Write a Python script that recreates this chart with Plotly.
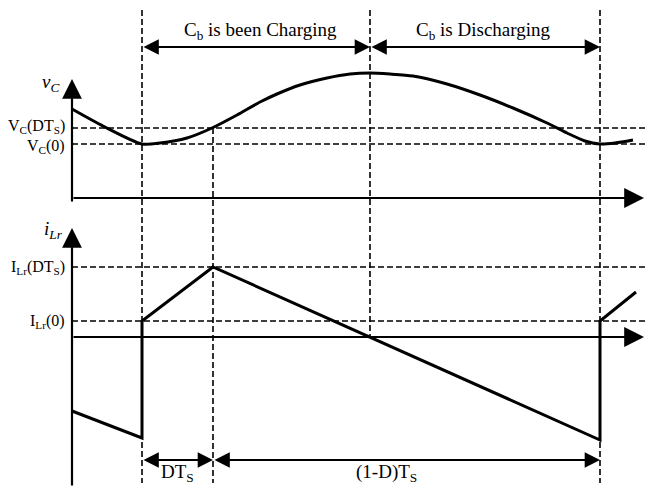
import plotly.graph_objects as go

# ---------------- data (schematic time / level coordinates) ----------------
# switching instants on the common time axis: 0, DTs, peak of vC, Ts
t_events = [142, 213, 370, 600]

# capacitor voltage waveform v_C(t)
t_vc = [72, 103, 142, 160, 187, 212, 237, 260, 277, 300, 327, 350, 370, 390,
        413, 447, 480, 513, 547, 567, 585, 600, 615, 633]
v_c = [109, 126, 144, 143, 138, 128, 115, 102, 94, 85, 78, 74, 73, 74,
       76, 84, 95, 108, 123, 133, 141, 144, 143, 140]

# resonant inductor current waveform i_Lr(t)
t_il = [72, 142, 142, 213, 600, 600, 636]
i_lr = [411, 438, 321, 267, 440, 321, 292]

# reference levels
vc_levels = [128, 144]
vc_level_labels = ["V<sub>C</sub>(DT<sub>S</sub>)", "V<sub>C</sub>(0)"]
il_levels = [267, 321]
il_level_labels = ["I<sub>Lr</sub>(DT<sub>S</sub>)", "I<sub>Lr</sub>(0)"]

# axes baselines (zero levels) of the two panels
vc_zero = 198
il_zero = 337

# interval labels
top_intervals = ["C<sub>b</sub> is been Charging", "C<sub>b</sub> is Discharging"]
bottom_intervals = ["DT<sub>S</sub>", "(1-D)T<sub>S</sub>"]

# ---------------- figure ----------------
FONT = "Liberation Serif"
BLACK = "#000000"
DASH = "6px,3px"

fig = go.Figure()

t_left = 72
t_right = 646

# horizontal dashed reference lines
for lv in vc_levels + il_levels:
    fig.add_trace(go.Scatter(x=[t_left, t_right], y=[lv, lv], mode="lines",
                             line=dict(color=BLACK, width=1.6, dash=DASH),
                             hoverinfo="skip"))

# vertical dashed event lines (top, bottom extents)
ev_extent = {142: (10, 483), 213: (128, 483), 370: (10, il_zero), 600: (10, 483)}
for te in t_events:
    y0, y1 = ev_extent[te]
    fig.add_trace(go.Scatter(x=[te, te], y=[y0, y1], mode="lines",
                             line=dict(color=BLACK, width=1.6, dash=DASH),
                             hoverinfo="skip"))

# waveforms
fig.add_trace(go.Scatter(x=t_vc, y=v_c, mode="lines",
                         line=dict(color=BLACK, width=3, shape="spline", smoothing=0.7),
                         hoverinfo="skip"))
fig.add_trace(go.Scatter(x=t_il, y=i_lr, mode="lines",
                         line=dict(color=BLACK, width=3),
                         hoverinfo="skip"))

annotations = []


def arrow(x_tip, y_tip, x_tail, y_tail, width, size, both=False):
    a = dict(x=x_tip, y=y_tip, ax=x_tail, ay=y_tail, xref="x", yref="y",
             axref="x", ayref="y", text="", showarrow=True, arrowhead=2,
             arrowsize=size, arrowwidth=width, arrowcolor=BLACK, standoff=0)
    if both:
        a.update(arrowside="end+start", startarrowhead=2, startarrowsize=size,
                 startstandoff=0)
    annotations.append(a)


# coordinate axes with arrow tips
arrow(t_left, 79, t_left, 203, 2.2, 1.8)
arrow(644, vc_zero, t_left, vc_zero, 2.2, 1.8)
arrow(t_left, 228, t_left, 487, 2.2, 1.8)
arrow(644, il_zero, t_left, il_zero, 2.2, 1.8)

# dimension arrows
top_y = 47
bot_y = 460
arrow(t_events[2], top_y, t_events[0], top_y, 1.8, 1.7, both=True)
arrow(t_events[3], top_y, t_events[2], top_y, 1.8, 1.7, both=True)
arrow(t_events[1], bot_y, t_events[0], bot_y, 1.8, 1.7, both=True)
arrow(t_events[3], bot_y, t_events[1], bot_y, 1.8, 1.7, both=True)

txt = dict(font=dict(family=FONT, size=19, color=BLACK), showarrow=False,
           xref="x", yref="y")
lbl = dict(font=dict(family=FONT, size=16, color=BLACK), showarrow=False,
           xref="x", yref="y")

annotations.append(dict(x=(t_events[0] + t_events[2]) / 2 + 4, y=31, text=top_intervals[0],
                        xanchor="center", yanchor="middle", **txt))
annotations.append(dict(x=(t_events[2] + t_events[3]) / 2 - 2, y=31, text=top_intervals[1],
                        xanchor="center", yanchor="middle", **txt))
annotations.append(dict(x=(t_events[0] + t_events[1]) / 2, y=473, text=bottom_intervals[0],
                        xanchor="center", yanchor="middle", **txt))
annotations.append(dict(x=386, y=473, text=bottom_intervals[1],
                        xanchor="center", yanchor="middle", **txt))

# level labels (nudged apart slightly so the close pair does not collide)
vc_nudge = [-2, 2]
for lv, lab, dy in zip(vc_levels, vc_level_labels, vc_nudge):
    annotations.append(dict(x=67, y=lv + dy, text=lab, xanchor="right", yanchor="middle", **lbl))
for lv, lab in zip(il_levels, il_level_labels):
    annotations.append(dict(x=67, y=lv, text=lab, xanchor="right", yanchor="middle", **lbl))

annotations.append(dict(x=50, y=83, text="<i>v<sub>C</sub></i>", xanchor="center",
                        yanchor="middle", **txt))
annotations.append(dict(x=53, y=230, text="<i>i<sub>Lr</sub></i>", xanchor="center",
                        yanchor="middle", **txt))

fig.update_layout(
    width=653, height=487,
    margin=dict(l=0, r=0, t=0, b=0),
    paper_bgcolor="white", plot_bgcolor="white",
    showlegend=False,
    xaxis=dict(range=[0, 653], visible=False, fixedrange=True),
    yaxis=dict(range=[487, 0], visible=False, fixedrange=True),
    annotations=annotations,
)

fig.write_html("out.html")
